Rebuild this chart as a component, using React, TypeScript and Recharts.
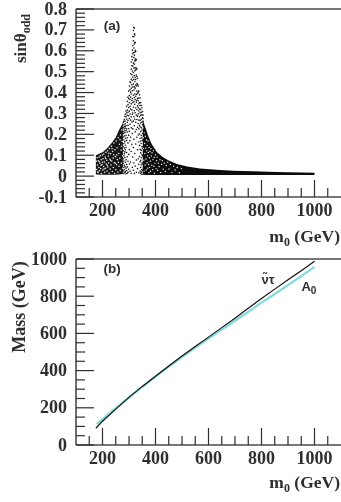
import React from 'react';
import {
  ComposedChart,
  Area,
  Line,
  Scatter,
  XAxis,
  YAxis,
  ReferenceLine,
  ReferenceDot,
  Label,
} from 'recharts';

const SERIF = '"Liberation Serif", serif';
const SANS = '"Liberation Sans", sans-serif';
const INK = '#2e2e2e';
const FRAME = '#4a4a4a';

// shared x axis
const massTicks = [150, 200, 250, 300, 350, 400, 450, 500, 550, 600, 650, 700, 750, 800, 850, 900, 950, 1000, 1050];
const massLabels = [200, 400, 600, 800, 1000];

// panel (a) axis
const sinTicks = [
  -0.1, -0.08, -0.06, -0.04, -0.02, 0, 0.02, 0.04, 0.06, 0.08, 0.1, 0.12, 0.14, 0.16, 0.18, 0.2,
  0.22, 0.24, 0.26, 0.28, 0.3, 0.32, 0.34, 0.36, 0.38, 0.4, 0.42, 0.44, 0.46, 0.48, 0.5, 0.52,
  0.54, 0.56, 0.58, 0.6, 0.62, 0.64, 0.66, 0.68, 0.7, 0.72, 0.74, 0.76, 0.78, 0.8,
];
const sinLabels = [-0.1, 0, 0.1, 0.2, 0.3, 0.4, 0.5, 0.6, 0.7, 0.8];

// filled parts of the cloud: [m0, low, high]
const leftEnvelope = [
  [175, 0.008, 0.1], [202, 0.006, 0.115], [220, 0.006, 0.137], [235, 0.007, 0.16],
  [250, 0.006, 0.185], [262, 0.008, 0.22], [277, 0.01, 0.255],
];
const rightEnvelope = [
  [352, 0.006, 0.27], [357, 0.006, 0.25], [365, 0.005, 0.222], [372, 0.005, 0.195], [385, 0.005, 0.155],
  [405, 0.005, 0.115], [428, 0.005, 0.09], [450, 0.005, 0.075], [481, 0.005, 0.058], [520, 0.005, 0.046],
  [568, 0.005, 0.036], [630, 0.005, 0.03], [693, 0.005, 0.026], [770, 0.005, 0.023], [857, 0.005, 0.02], [1000, 0.005, 0.016],
];

// scattered dots around the resonance: [m0, sin values]
const peakColumns: [number, number[]][] = [
  [278.4, [0.258, 0.231, 0.204, 0.187, 0.142, 0.121, 0.083, 0.061, 0.024]],
  [280.6, [0.262, 0.247, 0.212, 0.173, 0.156, 0.098, 0.072, 0.041, 0.012]],
  [282.2, [0.271, 0.238, 0.221, 0.192, 0.134, 0.107, 0.052, 0.031]],
  [284.7, [0.286, 0.263, 0.229, 0.208, 0.165, 0.116, 0.089, 0.046, 0.017]],
  [286.3, [0.296, 0.251, 0.236, 0.181, 0.148, 0.126, 0.067, 0.022]],
  [288.8, [0.312, 0.284, 0.241, 0.217, 0.194, 0.137, 0.078, 0.038, 0.011]],
  [291.1, [0.334, 0.302, 0.273, 0.226, 0.171, 0.113, 0.056, 0.027]],
  [293.6, [0.358, 0.316, 0.291, 0.258, 0.211, 0.184, 0.093, 0.044, 0.014]],
  [296.2, [0.378, 0.342, 0.306, 0.267, 0.243, 0.158, 0.071, 0.019]],
  [298.9, [0.407, 0.371, 0.328, 0.289, 0.227, 0.196, 0.104, 0.033]],
  [301.3, [0.431, 0.386, 0.352, 0.311, 0.276, 0.214, 0.127, 0.058]],
  [303.7, [0.452, 0.413, 0.367, 0.334, 0.297, 0.248, 0.169, 0.023]],
  [306.1, [0.491, 0.447, 0.402, 0.378, 0.321, 0.268, 0.186, 0.067]],
  [308.4, [0.546, 0.512, 0.463, 0.421, 0.393, 0.346, 0.283, 0.231, 0.118, 0.014]],
  [310.8, [0.572, 0.528, 0.486, 0.437, 0.362, 0.317, 0.259, 0.152]],
  [312.6, [0.603, 0.557, 0.503, 0.458, 0.409, 0.371, 0.296, 0.204, 0.042]],
  [314.3, [0.668, 0.624, 0.586, 0.527, 0.474, 0.426, 0.352, 0.302, 0.226, 0.091]],
  [316.5, [0.697, 0.648, 0.592, 0.541, 0.496, 0.441, 0.387, 0.331, 0.263, 0.137, 0.028]],
  [318.4, [0.712, 0.667, 0.613, 0.568, 0.517, 0.463, 0.412, 0.358, 0.284, 0.176, 0.063]],
  [320.2, [0.708, 0.681, 0.632, 0.579, 0.536, 0.482, 0.427, 0.376, 0.313, 0.241, 0.012]],
  [321.8, [0.676, 0.641, 0.593, 0.551, 0.504, 0.452, 0.393, 0.344, 0.272, 0.108]],
  [323.3, [0.639, 0.602, 0.561, 0.518, 0.473, 0.421, 0.367, 0.303, 0.212, 0.048]],
  [325.4, [0.597, 0.553, 0.508, 0.462, 0.436, 0.382, 0.326, 0.258, 0.154]],
  [327.6, [0.558, 0.517, 0.484, 0.432, 0.391, 0.354, 0.292, 0.223, 0.077, 0.018]],
  [329.7, [0.512, 0.477, 0.443, 0.407, 0.363, 0.318, 0.271, 0.186]],
  [332.3, [0.468, 0.438, 0.396, 0.372, 0.336, 0.287, 0.234, 0.126, 0.036]],
  [334.8, [0.431, 0.402, 0.361, 0.327, 0.298, 0.252, 0.197, 0.083]],
  [337.2, [0.408, 0.374, 0.346, 0.312, 0.268, 0.226, 0.163, 0.057, 0.016]],
  [339.6, [0.389, 0.351, 0.321, 0.284, 0.243, 0.202, 0.147, 0.094]],
  [341.9, [0.374, 0.338, 0.303, 0.267, 0.236, 0.181, 0.128, 0.069, 0.024]],
  [344.1, [0.352, 0.319, 0.291, 0.254, 0.213, 0.168, 0.111, 0.076, 0.041, 0.012]],
  [346.4, [0.338, 0.306, 0.272, 0.231, 0.194, 0.156, 0.123, 0.088, 0.053, 0.019]],
  [348.7, [0.327, 0.293, 0.258, 0.221, 0.183, 0.142, 0.102, 0.064, 0.031, 0.009]],
  [350.8, [0.309, 0.279, 0.246, 0.204, 0.171, 0.133, 0.097, 0.058, 0.026]],
  [352.9, [0.291, 0.276, 0.262]],
];

// pale specks where the cloud thins out: [m0, sin]
const leftSpecks = [
  [177, 0.071], [178, 0.032], [180, 0.088], [181, 0.053], [183, 0.017], [184, 0.074], [186, 0.041],
  [187, 0.091], [189, 0.026], [190, 0.062], [192, 0.098], [193, 0.037], [195, 0.078], [196, 0.013],
  [198, 0.056], [199, 0.101], [201, 0.029], [202, 0.083], [204, 0.046], [205, 0.106], [207, 0.067],
  [208, 0.019], [210, 0.092], [211, 0.038], [213, 0.114], [214, 0.058], [216, 0.076], [217, 0.024],
  [219, 0.121], [220, 0.044], [222, 0.096], [223, 0.063], [225, 0.014], [226, 0.132], [228, 0.081],
  [229, 0.034], [231, 0.107], [232, 0.053], [234, 0.143], [235, 0.072], [237, 0.022], [238, 0.118],
  [240, 0.087], [241, 0.041], [243, 0.158], [244, 0.064], [246, 0.012], [247, 0.126], [249, 0.094],
  [250, 0.031], [252, 0.168], [253, 0.056], [255, 0.136], [256, 0.079], [258, 0.019], [259, 0.184],
  [261, 0.108], [262, 0.047], [264, 0.152], [265, 0.086], [267, 0.027], [268, 0.197], [270, 0.124],
  [271, 0.062], [273, 0.221], [274, 0.166], [276, 0.097], [276, 0.038], [272, 0.143], [266, 0.174],
  [260, 0.066], [254, 0.101], [248, 0.061], [242, 0.102], [236, 0.131], [230, 0.076], [224, 0.109],
  [218, 0.052], [212, 0.084], [206, 0.034], [200, 0.066], [194, 0.052], [188, 0.069], [182, 0.021],
];
const rightSpecks = [
  [353, 0.231], [354, 0.184], [355, 0.132], [356, 0.076], [357, 0.024], [358, 0.207], [359, 0.156],
  [360, 0.108], [361, 0.053], [362, 0.191], [363, 0.134], [364, 0.082], [365, 0.029], [366, 0.173],
  [367, 0.121], [368, 0.064], [369, 0.146], [370, 0.097], [371, 0.038], [372, 0.168], [373, 0.113],
  [374, 0.056], [375, 0.016], [376, 0.137], [377, 0.088], [378, 0.042], [379, 0.118], [380, 0.071],
  [381, 0.023], [383, 0.131], [384, 0.096], [386, 0.052], [387, 0.112], [389, 0.031], [390, 0.079],
  [392, 0.122], [393, 0.047], [395, 0.089], [396, 0.014], [398, 0.061], [400, 0.102], [402, 0.036],
  [404, 0.074], [406, 0.091], [408, 0.028], [411, 0.062], [414, 0.046], [417, 0.078], [420, 0.017],
  [423, 0.056], [426, 0.074], [429, 0.033], [433, 0.062], [437, 0.022], [441, 0.051], [446, 0.066],
  [451, 0.034], [456, 0.056], [462, 0.018], [468, 0.047], [474, 0.029], [482, 0.041], [490, 0.016], [498, 0.036],
];

// panel (b)
const massAxisTicks = [0, 50, 100, 150, 200, 250, 300, 350, 400, 450, 500, 550, 600, 650, 700, 750, 800, 850, 900, 950, 1000];
const massAxisLabels = [0, 200, 400, 600, 800, 1000];
const sneutrino = [
  [175, 90], [200, 128], [250, 193], [300, 256], [350, 315], [400, 370], [450, 425], [500, 478], [550, 530],
  [600, 580], [650, 631], [700, 682], [750, 735], [800, 788], [850, 838], [900, 888], [950, 937], [1000, 988],
];
const pseudoscalar = [
  [178, 112], [200, 138], [250, 198], [300, 256], [350, 313], [400, 368], [450, 421], [500, 473], [550, 524],
  [600, 572], [650, 620], [700, 668], [750, 716], [800, 765], [850, 812], [900, 860], [950, 908], [1000, 958],
];

const envelopeRows = (rows: number[][]) => rows.map(([m, low, high]) => ({ m, band: [low, high] }));
const pointRows = (rows: number[][]) => rows.map(([m, v]) => ({ m, v }));
const columnRows = (cols: [number, number[]][]) => cols.flatMap(([m, values]) => values.map((v) => ({ m, v })));

const XTick = (props: any) => {
  const { x, y, payload } = props;
  const value = payload.value;
  const major = massLabels.includes(value);
  return (
    <g>
      <line x1={x} x2={x} y1={y} y2={y - (major ? 17 : 9)} stroke={INK} strokeWidth={1.2} />
      {major && (
        <text x={x} y={y + 18.5} textAnchor="middle" fontFamily={SERIF} fontWeight="bold" fontSize={18} fill={INK}>
          {value}
        </text>
      )}
    </g>
  );
};

const makeYTick = (labels: number[], fmt: (v: number) => string) => (props: any) => {
  const { x, y, payload } = props;
  const value = payload.value;
  const major = labels.includes(value);
  return (
    <g>
      <line x1={x} x2={x + (major ? 18 : 9)} y1={y} y2={y} stroke={INK} strokeWidth={1.2} />
      {major && (
        <text x={x - 9} y={y + 5.5} textAnchor="end" fontFamily={SERIF} fontWeight="bold" fontSize={18} fill={INK}>
          {fmt(value)}
        </text>
      )}
    </g>
  );
};

const M0Title = (props: any) => {
  const { viewBox } = props;
  const baseY = viewBox.y + props.dyBase;
  return (
    <text x={340} y={baseY} textAnchor="end" fontFamily={SERIF} fontWeight="bold" fontSize={17.5} fill={INK}>
      m<tspan fontSize={12} dy={4}>0</tspan>
      <tspan dy={-4}> (GeV)</tspan>
    </text>
  );
};

const SinTitle = () => (
  <text transform="translate(26,63) rotate(-90)" fontFamily={SERIF} fontWeight="bold" fontSize={17} fill={INK}>
    sinθ<tspan fontSize={12} dy={4}>odd</tspan>
  </text>
);

const MassTitle = () => (
  <text transform="translate(25,62) rotate(-90)" textAnchor="middle" fontFamily={SERIF} fontWeight="bold" fontSize={18} fill={INK}>
    Mass (GeV)
  </text>
);

const note = (content: React.ReactNode, size = 13.5) => (props: any) => (
  <text x={props.cx} y={props.cy} textAnchor="middle" fontFamily={SANS} fontWeight="bold" fontSize={size} fill={INK}>
    {content}
  </text>
);

const dot = (fill: string, r: number) => (props: any) => <circle cx={props.cx} cy={props.cy} r={r} fill={fill} />;

const Frame = ({ y }: { y: number }) => <ReferenceLine y={y} stroke={FRAME} strokeWidth={1.6} />;

function MixingPanel() {
  return (
    <ComposedChart width={341} height={252} margin={{ top: 9, right: 0, left: 0, bottom: 0 }}>
      <XAxis
        dataKey="m"
        type="number"
        domain={[100, 1100]}
        ticks={massTicks}
        interval={0}
        height={55}
        tickSize={0}
        tickMargin={0}
        tickLine={false}
        tick={XTick}
        stroke={FRAME}
        strokeWidth={1.6}
      >
        <Label content={<M0Title dyBase={45} />} />
      </XAxis>
      <YAxis
        dataKey="v"
        type="number"
        domain={[-0.1, 0.8]}
        ticks={sinTicks}
        interval={0}
        width={76}
        tickSize={0}
        tickMargin={0}
        tickLine={false}
        tick={makeYTick(sinLabels, (v) => (v === 0 ? '0' : v.toFixed(1)))}
        stroke={FRAME}
        strokeWidth={1.6}
      >
        <Label content={<SinTitle />} />
      </YAxis>
      {Frame({ y: 0.8 })}
      <Area data={envelopeRows(leftEnvelope)} dataKey="band" stroke="none" fill="#161616" fillOpacity={1} isAnimationActive={false} dot={false} activeDot={false} />
      <Area data={envelopeRows(rightEnvelope)} dataKey="band" stroke="none" fill="#0c0c0c" fillOpacity={1} isAnimationActive={false} dot={false} activeDot={false} />
      <Scatter data={columnRows(peakColumns)} fill="#111" shape={dot('#111', 0.8)} isAnimationActive={false} />
      <Scatter data={pointRows(leftSpecks)} fill="#fff" shape={dot('#f4f4f4', 0.75)} isAnimationActive={false} />
      <Scatter data={pointRows(rightSpecks)} fill="#fff" shape={dot('#f4f4f4', 0.7)} isAnimationActive={false} />
      <ReferenceDot x={236} y={0.7} r={0} shape={note('(a)')} />
    </ComposedChart>
  );
}

function MassPanel() {
  return (
    <ComposedChart width={341} height={257} margin={{ top: 14, right: 0, left: 0, bottom: 0 }}>
      <XAxis
        dataKey="m"
        type="number"
        domain={[100, 1100]}
        ticks={massTicks}
        interval={0}
        height={57}
        tickSize={0}
        tickMargin={0}
        tickLine={false}
        tick={XTick}
        stroke={FRAME}
        strokeWidth={1.6}
      >
        <Label content={<M0Title dyBase={43} />} />
      </XAxis>
      <YAxis
        type="number"
        dataKey="v"
        domain={[0, 1000]}
        ticks={massAxisTicks}
        interval={0}
        width={76}
        tickSize={0}
        tickMargin={0}
        tickLine={false}
        tick={makeYTick(massAxisLabels, (v) => String(v))}
        stroke={FRAME}
        strokeWidth={1.6}
      >
        <Label content={<MassTitle />} />
      </YAxis>
      {Frame({ y: 1000 })}
      <Line data={pointRows(pseudoscalar)} dataKey="v" stroke="#7fdcd8" strokeWidth={2.2} dot={false} isAnimationActive={false} />
      <Line data={pointRows(sneutrino)} dataKey="v" stroke="#111" strokeWidth={1.2} dot={false} isAnimationActive={false} />
      <ReferenceDot x={236} y={925} r={0} shape={note('(b)')} />
      <ReferenceDot x={825} y={868} r={0} shape={note('ν̃τ', 13)} />
      <ReferenceDot x={979} y={830} r={0} shape={note(<>A<tspan fontSize={10} dy={3}>0</tspan></>, 13)} />
    </ComposedChart>
  );
}

export default function App() {
  return (
    <div style={{ position: 'absolute', left: 0, top: 0, width: 341, height: 502, background: '#fff', overflow: 'hidden', filter: 'blur(0.4px)' }}>
      <div style={{ position: 'absolute', left: 0, top: 0 }}>
        <MixingPanel />
      </div>
      <div style={{ position: 'absolute', left: 0, top: 245 }}>
        <MassPanel />
      </div>
    </div>
  );
}
